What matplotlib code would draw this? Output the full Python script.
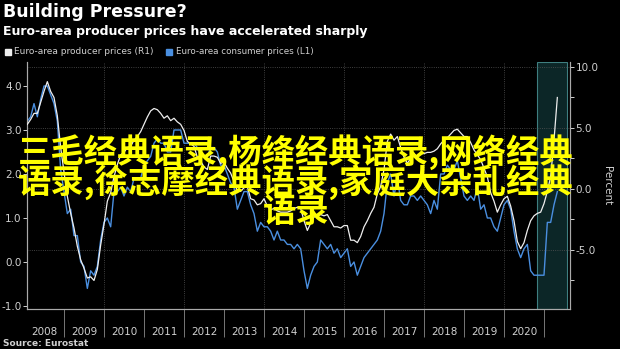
import numpy as np
import matplotlib.pyplot as plt

# Euro-area consumer prices, % y/y (left axis), monthly Jan 2008 - Apr 2021
cpi = [3.2, 3.3, 3.6, 3.3, 3.7, 4.0, 4.0, 3.8, 3.6, 3.2, 2.1, 1.6,
       1.1, 1.2, 0.6, 0.6, 0.0, -0.1, -0.6, -0.2, -0.3, -0.1, 0.5, 0.9,
       1.0, 0.8, 1.6, 1.6, 1.7, 1.5, 1.7, 1.6, 1.9, 1.9, 1.9, 2.2,
       2.3, 2.4, 2.7, 2.8, 2.7, 2.7, 2.5, 2.5, 3.0, 3.0, 3.0, 2.7,
       2.7, 2.7, 2.7, 2.6, 2.4, 2.4, 2.4, 2.6, 2.6, 2.5, 2.2, 2.2,
       2.0, 1.8, 1.7, 1.2, 1.4, 1.6, 1.6, 1.3, 1.1, 0.7, 0.9, 0.8,
       0.8, 0.7, 0.5, 0.7, 0.5, 0.5, 0.4, 0.4, 0.3, 0.4, 0.3, -0.2,
       -0.6, -0.3, -0.1, 0.0, 0.5, 0.4, 0.3, 0.4, 0.2, 0.3, 0.1, 0.2,
       0.3, -0.1, 0.0, -0.3, -0.1, 0.1, 0.2, 0.3, 0.4, 0.5, 0.7, 1.1,
       1.8, 2.0, 1.5, 1.9, 1.4, 1.3, 1.3, 1.5, 1.5, 1.4, 1.5, 1.4,
       1.3, 1.1, 1.4, 1.2, 2.0, 2.0, 2.2, 2.1, 2.1, 2.3, 1.9, 1.5,
       1.4, 1.5, 1.4, 1.7, 1.2, 1.3, 1.0, 1.0, 0.8, 0.7, 1.0, 1.3,
       1.4, 1.2, 0.7, 0.3, 0.1, 0.3, 0.4, -0.2, -0.3, -0.3, -0.3, -0.3,
       0.9, 0.9, 1.3, 1.6]

# Euro-area producer prices, % y/y (right axis)
ppi = [5.3, 5.7, 6.2, 6.2, 7.1, 8.0, 8.8, 8.0, 7.5, 6.0, 3.4, 1.4,
       -0.6, -2.0, -3.2, -4.7, -5.8, -6.5, -7.3, -7.2, -7.5, -6.6, -4.6, -2.9,
       -1.0, -0.3, 1.0, 2.0, 2.8, 3.0, 3.4, 3.5, 4.0, 4.3, 4.7, 5.3,
       5.9, 6.4, 6.6, 6.5, 6.2, 5.8, 6.0, 5.6, 5.8, 5.5, 5.3, 4.8,
       3.9, 3.7, 3.5, 2.6, 2.3, 1.8, 1.6, 2.7, 2.7, 2.6, 2.1, 2.2,
       1.7, 1.3, 0.6, -0.2, -0.2, 0.1, 0.2, -0.8, -0.9, -1.3, -1.2, -0.8,
       -1.4, -1.7, -1.6, -1.8, -1.9, -1.9, -1.9, -1.8, -1.6, -1.5, -1.6, -2.6,
       -3.4, -2.8, -2.3, -2.2, -2.1, -2.2, -2.1, -2.6, -3.1, -3.1, -3.2, -3.0,
       -3.0, -4.2, -4.2, -4.4, -3.9, -3.1, -2.6, -2.0, -1.5, -0.4, 0.2, 1.6,
       3.9, 4.5, 4.0, 4.3, 3.4, 2.6, 2.1, 2.5, 2.9, 2.6, 2.9, 2.9,
       3.0, 3.0, 3.1, 3.3, 3.7, 4.0, 4.2, 4.5, 4.8, 4.9, 4.6, 4.3,
       4.3, 3.8, 3.2, 2.8, 2.4, 1.7, 1.0, -0.3, -1.0, -1.9, -1.3, -0.8,
       -0.6, -1.4, -2.6, -4.3, -4.9, -4.4, -3.4, -2.6, -2.2, -2.0, -1.9, -1.2,
       -0.2, 1.0, 4.0, 7.5]

years = list(range(2008, 2021))
shade = (2020.825, 2021.575)

# month-end positions in fractional years
t = 2008 + (np.arange(len(cpi)) + 1) / 12

bg = 'black'
fg = '#d0d0d0'
blue = '#4a8fe0'
white = '#eeeeee'

fig = plt.figure(figsize=(6.2, 3.49), dpi=100, facecolor=bg)
ax = fig.add_axes([27 / 620, 40 / 349, 543 / 620, 247 / 349])
ax.set_facecolor(bg)
ax2 = ax.twinx()

ax.axvspan(*shade, facecolor='#0c2627', edgecolor='#3f7f80', lw=0.8, zorder=0)
for y in range(2010, 2021, 2):
    ax.axvline(y, color='#555555', ls=':', lw=0.6, zorder=0.5)

ax.plot(t, cpi, color=blue, lw=1.0, zorder=3)
ax2.plot(t, ppi, color=white, lw=0.9, zorder=3)

ax.set_xlim(2008.075, 2021.65)
ax.set_ylim(-1.068, 4.545)
ax2.set_ylim(-9.84, 10.41)

# x axis: year labels centred in each year, separators at year starts
ax.set_xticks([y + 0.5 for y in years])
ax.set_xticklabels([str(y) for y in years])
ax.set_xticks(list(range(2009, 2022)), minor=True)
ax.tick_params(axis='x', which='major', length=0, pad=13, labelsize=7.5, labelcolor=fg)
ax.tick_params(axis='x', which='minor', length=20, width=0.6, color='#8a8a8a', direction='out')

ax.set_yticks([-1, 0, 1, 2, 3, 4])
ax.set_yticklabels(['-1.0', '0.0', '1.0', '2.0', '3.0', '4.0'])
ax.tick_params(axis='y', length=3, width=0.7, color=fg, pad=1, labelsize=7.5, labelcolor=fg)

ax2.set_yticks([-5, 0, 5, 10])
ax2.set_yticklabels(['-5.0', '0.0', '5.0', '10.0'])
ax2.set_yticks([-7.5, -2.5, 2.5, 7.5], minor=True)
ax2.tick_params(axis='y', which='both', length=3, width=0.7, color=fg, pad=1,
                labelsize=7.5, labelcolor=fg)
ax2.grid(axis='y', which='major', color='#555555', ls=':', lw=0.6)
ax2.set_ylabel('Percent', rotation=270, color=fg, fontsize=7.5, labelpad=10)

for a in (ax, ax2):
    a.spines['top'].set_visible(False)
    for s in ('left', 'right', 'bottom'):
        a.spines[s].set_color('#aaaaaa')
        a.spines[s].set_linewidth(0.8)

# headline, legend, source
fig.text(3 / 620, 1 - 12 / 349, 'Building Pressure?', color='white', fontsize=12.5,
         fontweight='bold', va='center', ha='left')
fig.text(3 / 620, 1 - 31 / 349, 'Euro-area producer prices have accelerated sharply',
         color='white', fontsize=9, fontweight='bold', va='center', ha='left')
fig.patches.append(plt.Rectangle((5 / 620, 1 - 55 / 349), 6 / 620, 6 / 349,
                                 transform=fig.transFigure, color=white))
fig.text(14 / 620, 1 - 52 / 349, 'Euro-area producer prices (R1)', color=fg,
         fontsize=6.5, va='center', ha='left')
fig.patches.append(plt.Rectangle((166 / 620, 1 - 55 / 349), 6 / 620, 6 / 349,
                                 transform=fig.transFigure, color=blue))
fig.text(176 / 620, 1 - 52 / 349, 'Euro-area consumer prices (L1)', color=fg,
         fontsize=6.3, va='center', ha='left')
fig.text(3 / 620, 1 - 343 / 349, 'Source: Eurostat', color=fg, fontsize=6.5,
         fontweight='bold', va='center', ha='left')

# overlaid caption
cjk = ['Noto Sans CJK SC', 'DejaVu Sans']
lines = ['三毛经典语录,杨绛经典语录,网络经典',
         '语录,徐志摩经典语录,家庭大杂乱经典',
         '语录']
fig.text(296 / 620, 1 - 181.5 / 349, '\n'.join(lines), color='#ffff00',
         fontsize=24, fontweight='bold', family=cjk, va='center', ha='center',
         multialignment='center', linespacing=0.82)

fig.savefig('out.png', dpi=100, facecolor=bg)
